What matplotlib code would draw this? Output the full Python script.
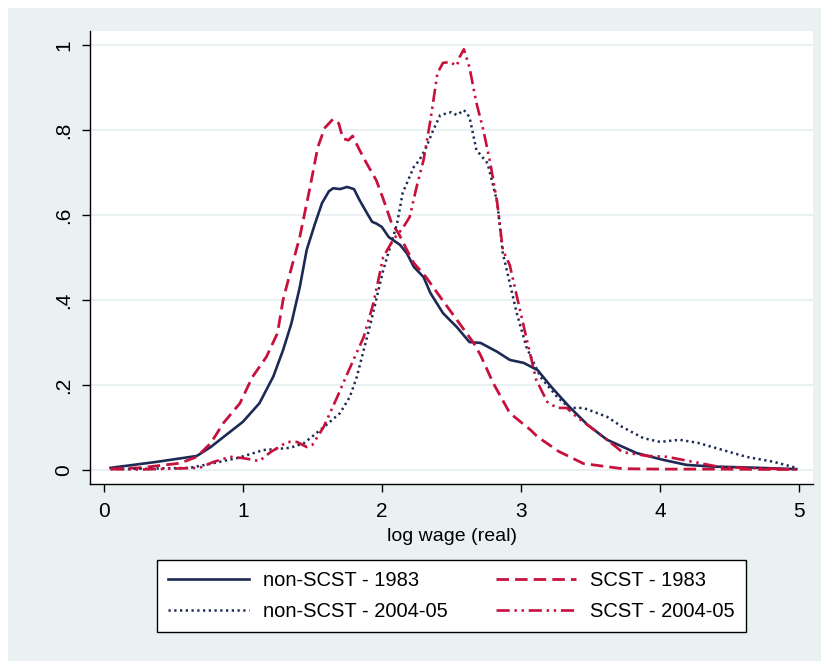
import matplotlib
matplotlib.use("Agg")
import matplotlib.pyplot as plt
from matplotlib.patches import Rectangle

plt.rcParams['font.family'] = ['Liberation Sans', 'DejaVu Sans']

# kernel density curves
x_non_83 = [0.05, 0.38, 0.67, 0.77, 0.91, 1.0, 1.12, 1.22, 1.29, 1.35, 1.41, 1.46, 1.52, 1.57,
            1.62, 1.65, 1.70, 1.75, 1.80, 1.84, 1.88, 1.93, 1.96, 2.0, 2.05, 2.13, 2.18, 2.23,
            2.30, 2.35, 2.44, 2.54, 2.63, 2.71, 2.83, 2.92, 3.02, 3.12, 3.22, 3.35, 3.48, 3.62,
            3.83, 4.02, 4.19, 4.38, 4.62, 4.98]
y_non_83 = [0.005, 0.019, 0.033, 0.054, 0.09, 0.113, 0.157, 0.22, 0.282, 0.345, 0.43, 0.518,
            0.58, 0.628, 0.656, 0.663, 0.661, 0.666, 0.661, 0.635, 0.612, 0.584, 0.58, 0.572,
            0.548, 0.53, 0.51, 0.478, 0.454, 0.416, 0.369, 0.336, 0.301, 0.299, 0.278, 0.259,
            0.252, 0.235, 0.195, 0.148, 0.106, 0.071, 0.04, 0.024, 0.012, 0.008, 0.006, 0.002]

x_sc_83 = [0.05, 0.26, 0.55, 0.67, 0.77, 0.86, 0.98, 1.07, 1.17, 1.25, 1.29, 1.34, 1.41, 1.48,
           1.54, 1.59, 1.65, 1.69, 1.72, 1.76, 1.79, 1.84, 1.89, 1.93, 1.96, 2.01, 2.07, 2.12,
           2.18, 2.23, 2.32, 2.42, 2.54, 2.66, 2.71, 2.80, 2.92, 3.07, 3.12, 3.27, 3.45, 3.73,
           4.02, 4.4, 4.98]
y_sc_83 = [0.003, 0.005, 0.016, 0.031, 0.063, 0.11, 0.157, 0.219, 0.266, 0.322, 0.40, 0.463,
           0.548, 0.659, 0.76, 0.805, 0.826, 0.816, 0.78, 0.776, 0.786, 0.753, 0.722, 0.699,
           0.682, 0.638, 0.581, 0.557, 0.518, 0.487, 0.453, 0.407, 0.353, 0.299, 0.27, 0.205,
           0.134, 0.094, 0.078, 0.044, 0.015, 0.003, 0.002, 0.002, 0.001]

x_non_04 = [0.05, 0.3, 0.62, 0.79, 0.96, 1.15, 1.34, 1.44, 1.58, 1.70, 1.77, 1.82, 1.92, 2.01,
            2.11, 2.15, 2.23, 2.27, 2.32, 2.37, 2.42, 2.50, 2.54, 2.59, 2.63, 2.68, 2.76, 2.83,
            2.87, 2.92, 2.97, 3.04, 3.14, 3.26, 3.35, 3.45, 3.62, 3.73, 3.88, 4.0, 4.14, 4.27,
            4.43, 4.62, 4.82, 4.98]
y_non_04 = [0.002, 0.003, 0.005, 0.016, 0.028, 0.047, 0.052, 0.063, 0.10, 0.134, 0.172, 0.219,
            0.346, 0.47, 0.58, 0.652, 0.713, 0.729, 0.76, 0.80, 0.835, 0.842, 0.835, 0.847,
            0.831, 0.753, 0.722, 0.63, 0.51, 0.44, 0.369, 0.289, 0.219, 0.172, 0.146, 0.146,
            0.125, 0.101, 0.075, 0.066, 0.071, 0.064, 0.049, 0.031, 0.019, 0.005]

x_sc_04 = [0.05, 0.26, 0.69, 0.79, 0.91, 1.0, 1.12, 1.20, 1.32, 1.39, 1.46, 1.50, 1.58, 1.68,
           1.75, 1.87, 1.94, 2.01, 2.08, 2.15, 2.20, 2.25, 2.30, 2.35, 2.40, 2.44, 2.49, 2.54,
           2.56, 2.59, 2.63, 2.68, 2.73, 2.78, 2.83, 2.87, 2.92, 2.97, 3.04, 3.11, 3.19, 3.26,
           3.33, 3.40, 3.50, 3.62, 3.73, 3.91, 4.05, 4.24, 4.43, 4.98]
y_sc_04 = [0.002, 0.001, 0.005, 0.019, 0.031, 0.028, 0.021, 0.042, 0.066, 0.066, 0.054, 0.059,
           0.10, 0.172, 0.225, 0.313, 0.393, 0.501, 0.541, 0.569, 0.595, 0.666, 0.729, 0.824,
           0.934, 0.958, 0.96, 0.951, 0.972, 0.99, 0.948, 0.864, 0.80, 0.722, 0.628, 0.518,
           0.482, 0.41, 0.31, 0.212, 0.16, 0.146, 0.146, 0.125, 0.101, 0.071, 0.042, 0.033,
           0.031, 0.019, 0.007, 0.001]

labels = ["non-SCST - 1983", "SCST - 1983", "non-SCST - 2004-05", "SCST - 2004-05"]
x_ticks = [0, 1, 2, 3, 4, 5]
y_ticks = [0, 0.2, 0.4, 0.6, 0.8, 1.0]
y_ticklabels = ["0", ".2", ".4", ".6", ".8", "1"]

navy = "#1c2a55"
red = "#c8103c"
bg = "#eaf1f3"

fig = plt.figure(figsize=(8.21, 6.61), dpi=100, facecolor="white")
fig.patches.append(Rectangle((8 / 821, 0), 1, 1 - 8 / 661, transform=fig.transFigure,
                             facecolor=bg, edgecolor="none", zorder=-10))

ax = fig.add_axes([90 / 821, 1 - 484 / 661, 723 / 821, 453 / 661])
ax.set_facecolor("white")

l1, = ax.plot(x_non_83, y_non_83, color=navy, lw=1.9, ls="-")
l2, = ax.plot(x_sc_83, y_sc_83, color=red, lw=2.0, ls=(0, (4.5, 2.2)))
l3, = ax.plot(x_non_04, y_non_04, color=navy, lw=1.8, ls=(0, (0.9, 1.4)))
l4, = ax.plot(x_sc_04, y_sc_04, color=red, lw=1.9, ls=(0, (5, 1.8, 0.9, 1.8, 0.9, 1.8)))

ax.set_xlim(-0.098, 5.10)
ax.set_ylim(-0.033, 1.033)
ax.set_xticks(x_ticks)
ax.set_yticks(y_ticks)
ax.set_yticklabels(y_ticklabels, rotation=90, va="center")
ax.tick_params(axis="both", direction="out", length=6, width=1, labelsize=15, colors="black")
ax.tick_params(axis="x", pad=7)
ax.tick_params(axis="y", pad=6)
ax.grid(axis="y", color="#e4edf0", lw=1.2)
ax.set_axisbelow(True)
for s in ["top", "right"]:
    ax.spines[s].set_visible(False)
for s in ["left", "bottom"]:
    ax.spines[s].set_linewidth(1)
    ax.spines[s].set_color("black")

ax.set_xlabel("log wage (real)", fontsize=14, labelpad=5)

# legend fills column-wise, so order handles to get the row layout
leg = fig.legend([l1, l3, l2, l4], [labels[0], labels[2], labels[1], labels[3]],
                 ncol=2, loc="center", mode="expand", borderaxespad=0,
                 bbox_to_anchor=(157 / 821, 1 - 633 / 661, 589 / 821, 74 / 661),
                 fontsize=14.5, frameon=True, fancybox=False, edgecolor="black",
                 facecolor="white", framealpha=1, handlelength=4.0, handletextpad=0.7,
                 labelspacing=0.6, borderpad=0.55)
leg.get_frame().set_linewidth(1)

fig.savefig("out.png", dpi=100, facecolor=fig.get_facecolor())
